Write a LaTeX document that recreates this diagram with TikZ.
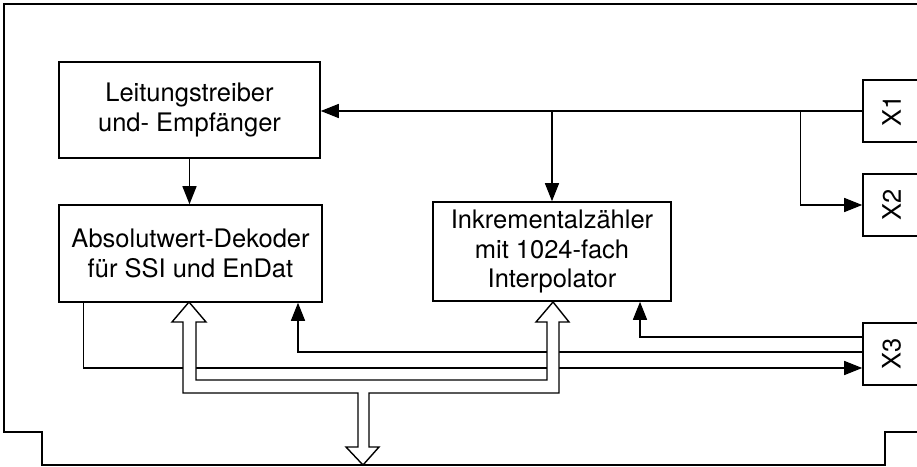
\documentclass[tikz,border=0pt]{standalone}
\usepackage{fontspec}
\setmainfont{TeX Gyre Heros}
\usetikzlibrary{arrows.meta,calc}
\begin{document}
\begin{tikzpicture}[x=1pt,y=-1pt,
 box/.style={draw,line width=1.6pt,inner sep=0pt,align=center,font=\fontsize{25.5}{29.5}\selectfont},
 conn/.style={line width=1.4pt},
 arr/.style={conn,-{Triangle[length=18pt,width=14pt]}},
 bus/.style={line width=1.4pt,fill=white,line join=miter}
]
\useasboundingbox (0,0) rectangle (917,466);
\clip (0,0) rectangle (917,466);
% frame
\draw[line width=1.6pt] (917,4) -- (4,4) -- (4,432) -- (42,432) -- (42,465) -- (885,465) -- (885,432) -- (917,432);
% blocks
\node[box,minimum width=261pt,minimum height=96pt] (lt) at (189.5,110) {Leitungstreiber\\und- Empfänger};
\node[box,minimum width=263pt,minimum height=97pt] (abs) at (190.5,253.5) {Absolutwert-Dekoder\\für SSI und EnDat};
\node[box,minimum width=238pt,minimum height=99pt] (ink) at (552,251.5) {Inkrementalzähler\\mit 1024-fach\\Interpolator};
\node[box,minimum width=57pt,minimum height=62pt] (x1) at (891.5,111) {\rotatebox{90}{X1}};
\node[box,minimum width=57pt,minimum height=62pt] (x2) at (891.5,205) {\rotatebox{90}{X2}};
\node[box,minimum width=57pt,minimum height=62pt] (x3) at (891.5,354) {\rotatebox{90}{X3}};
% top connectors
\coordinate (j1) at (ink.north |- x1.west);
\coordinate (j2) at ($(x1.west)+(-62,0)$);
\draw[arr] (x1.west) -- (lt.east |- x1.west);
\draw[arr] (j1) -- (ink.north);
\draw[arr] (j2) |- (x2.west);
\draw[arr] (lt.south) -- (lt.south |- abs.north);
% bottom connectors
\draw[arr] ($(abs.south)+(-107,0)$) |- ($(x3.west)+(0,14)$);
\draw[arr] ($(x3.west)+(0,-2)$) -| ($(abs.south)+(107.5,0)$);
\draw[arr] ($(x3.west)+(0,-17)$) -| ($(ink.south)+(88,0)$);
% data bus
\draw[bus] (183,322) -- (183,393) -- (358,393) -- (358,447) -- (346,447) -- (363,465) -- (379,447) -- (369,447) -- (369,393) -- (559,393) -- (559,322) -- (569,322) -- (553,302) -- (536,322) -- (547,322) -- (547,380) -- (196,380) -- (196,322) -- (206,322) -- (189,302) -- (172,322) -- cycle;
\end{tikzpicture}
\end{document}
